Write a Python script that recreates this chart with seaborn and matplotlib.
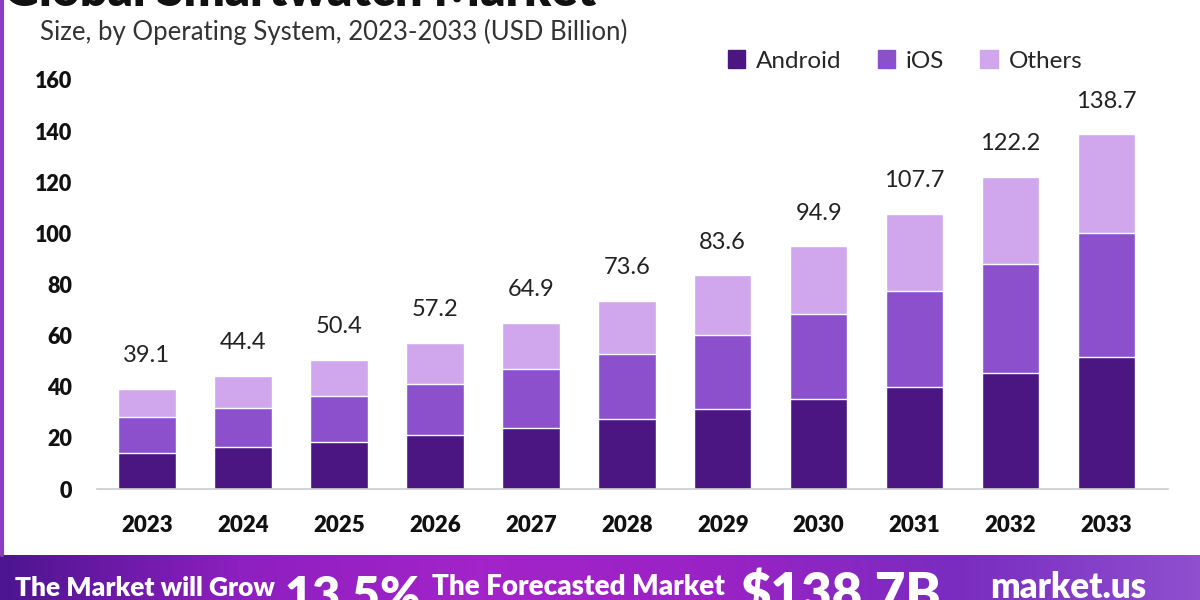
import numpy as np
import pandas as pd
import matplotlib.pyplot as plt
import seaborn as sns
from matplotlib.colors import LinearSegmentedColormap
from matplotlib.lines import Line2D

# values (USD Billion)
years = ["2023", "2024", "2025", "2026", "2027", "2028", "2029", "2030", "2031", "2032", "2033"]
android = [14.2, 16.3, 18.5, 21.1, 24.0, 27.4, 31.3, 35.1, 40.0, 45.5, 51.8]
ios = [14.1, 15.3, 17.9, 19.9, 22.8, 25.4, 29.0, 33.4, 37.6, 42.5, 48.2]
others = [10.8, 12.8, 14.0, 16.2, 18.1, 20.8, 23.3, 26.4, 30.1, 34.2, 38.7]
totals = [39.1, 44.4, 50.4, 57.2, 64.9, 73.6, 83.6, 94.9, 107.7, 122.2, 138.7]

colors = {"Android": "#4c1682", "iOS": "#8c50cd", "Others": "#d0a6ec"}

df = pd.DataFrame({"Year": years, "Android": android, "iOS": ios, "Others": others})
df["android_ios"] = df["Android"] + df["iOS"]
df["all"] = df["android_ios"] + df["Others"]

sns.set_style("white")
plt.rcParams["font.family"] = ["Lato", "DejaVu Sans"]

fig = plt.figure(figsize=(12, 6), dpi=100)
ax = fig.add_axes([97 / 1200, 1 - 489 / 600, (1168 - 97) / 1200, (489 - 80) / 600])

# stacked bars: draw cumulative heights back to front
sns.barplot(data=df, x="Year", y="all", color=colors["Others"], width=0.6, saturation=1, ax=ax)
sns.barplot(data=df, x="Year", y="android_ios", color=colors["iOS"], width=0.6, saturation=1, ax=ax)
sns.barplot(data=df, x="Year", y="Android", color=colors["Android"], width=0.6, saturation=1, ax=ax)

for i, t in enumerate(totals):
    ax.text(i, t + 13, f"{t}", ha="center", va="center", fontsize=17, color="#222222")

ax.set_ylim(0, 160)
ax.set_xlim(-0.52, 10.64)
ax.set_yticks(range(0, 161, 20))
ax.set_xlabel("")
ax.set_ylabel("")
ax.tick_params(axis="y", length=0, pad=18, labelsize=15.5)
ax.tick_params(axis="x", length=0, pad=19, labelsize=16)
for lbl in ax.get_xticklabels() + ax.get_yticklabels():
    lbl.set_fontweight("heavy")
    lbl.set_color("#111111")
for s in ["top", "right", "left"]:
    ax.spines[s].set_visible(False)
ax.spines["bottom"].set_color("#cccccc")
ax.spines["bottom"].set_linewidth(1.2)

# title (cut by the top edge) and subtitle
fig.text(0.003, 1 + 8 / 600, "Global Smartwatch Market", fontsize=35, fontweight="heavy",
         color="#111111", va="center", ha="left")
fig.text(40 / 1200, 1 - 32 / 600, "Size, by Operating System, 2023-2033 (USD Billion)",
         fontsize=18.5, color="#333333", va="center", ha="left")

# legend
handles = [plt.Rectangle((0, 0), 1, 1, color=colors[k]) for k in ["Android", "iOS", "Others"]]
fig.legend(handles, ["Android", "iOS", "Others"], loc="center", bbox_to_anchor=(905 / 1200, 1 - 61 / 600),
           ncol=3, frameon=False, fontsize=17.5, handlelength=0.7, handleheight=0.7,
           handletextpad=0.45, columnspacing=1.5)

# left border of the card
fig.add_artist(Line2D([0.002, 0.002], [45 / 600, 1], color="#8a3fc4", lw=3))

# bottom banner with gradient
bax = fig.add_axes([0, 0, 1, 45 / 600])
cmap = LinearSegmentedColormap.from_list(
    "banner", ["#4d1590", "#8e1fc0", "#a324c9", "#9a22c4", "#7a2cc0", "#8f4fcf"])
bax.imshow(np.linspace(0, 1, 256).reshape(1, -1), aspect="auto", cmap=cmap, extent=[0, 1, 0, 1])
bax.set_xlim(0, 1)
bax.set_ylim(0, 1)
bax.axis("off")
bax.text(15 / 1200, 0.0, "The Market will Grow", color="white", fontsize=19, fontweight="heavy",
         va="bottom", ha="left")
bax.text(285 / 1200, -0.45, "13.5%", color="white", fontsize=35, fontweight="heavy",
         va="bottom", ha="left")
bax.text(432 / 1200, 0.0, "The Forecasted Market", color="white", fontsize=20, fontweight="heavy",
         va="bottom", ha="left")
bax.text(740 / 1200, -0.45, "$138.7B", color="white", fontsize=38, fontweight="heavy",
         va="bottom", ha="left")
bax.text(990 / 1200, -0.1, "market.us", color="white", fontsize=25, fontweight="heavy",
         va="bottom", ha="left")

fig.savefig("out.png", dpi=100)
